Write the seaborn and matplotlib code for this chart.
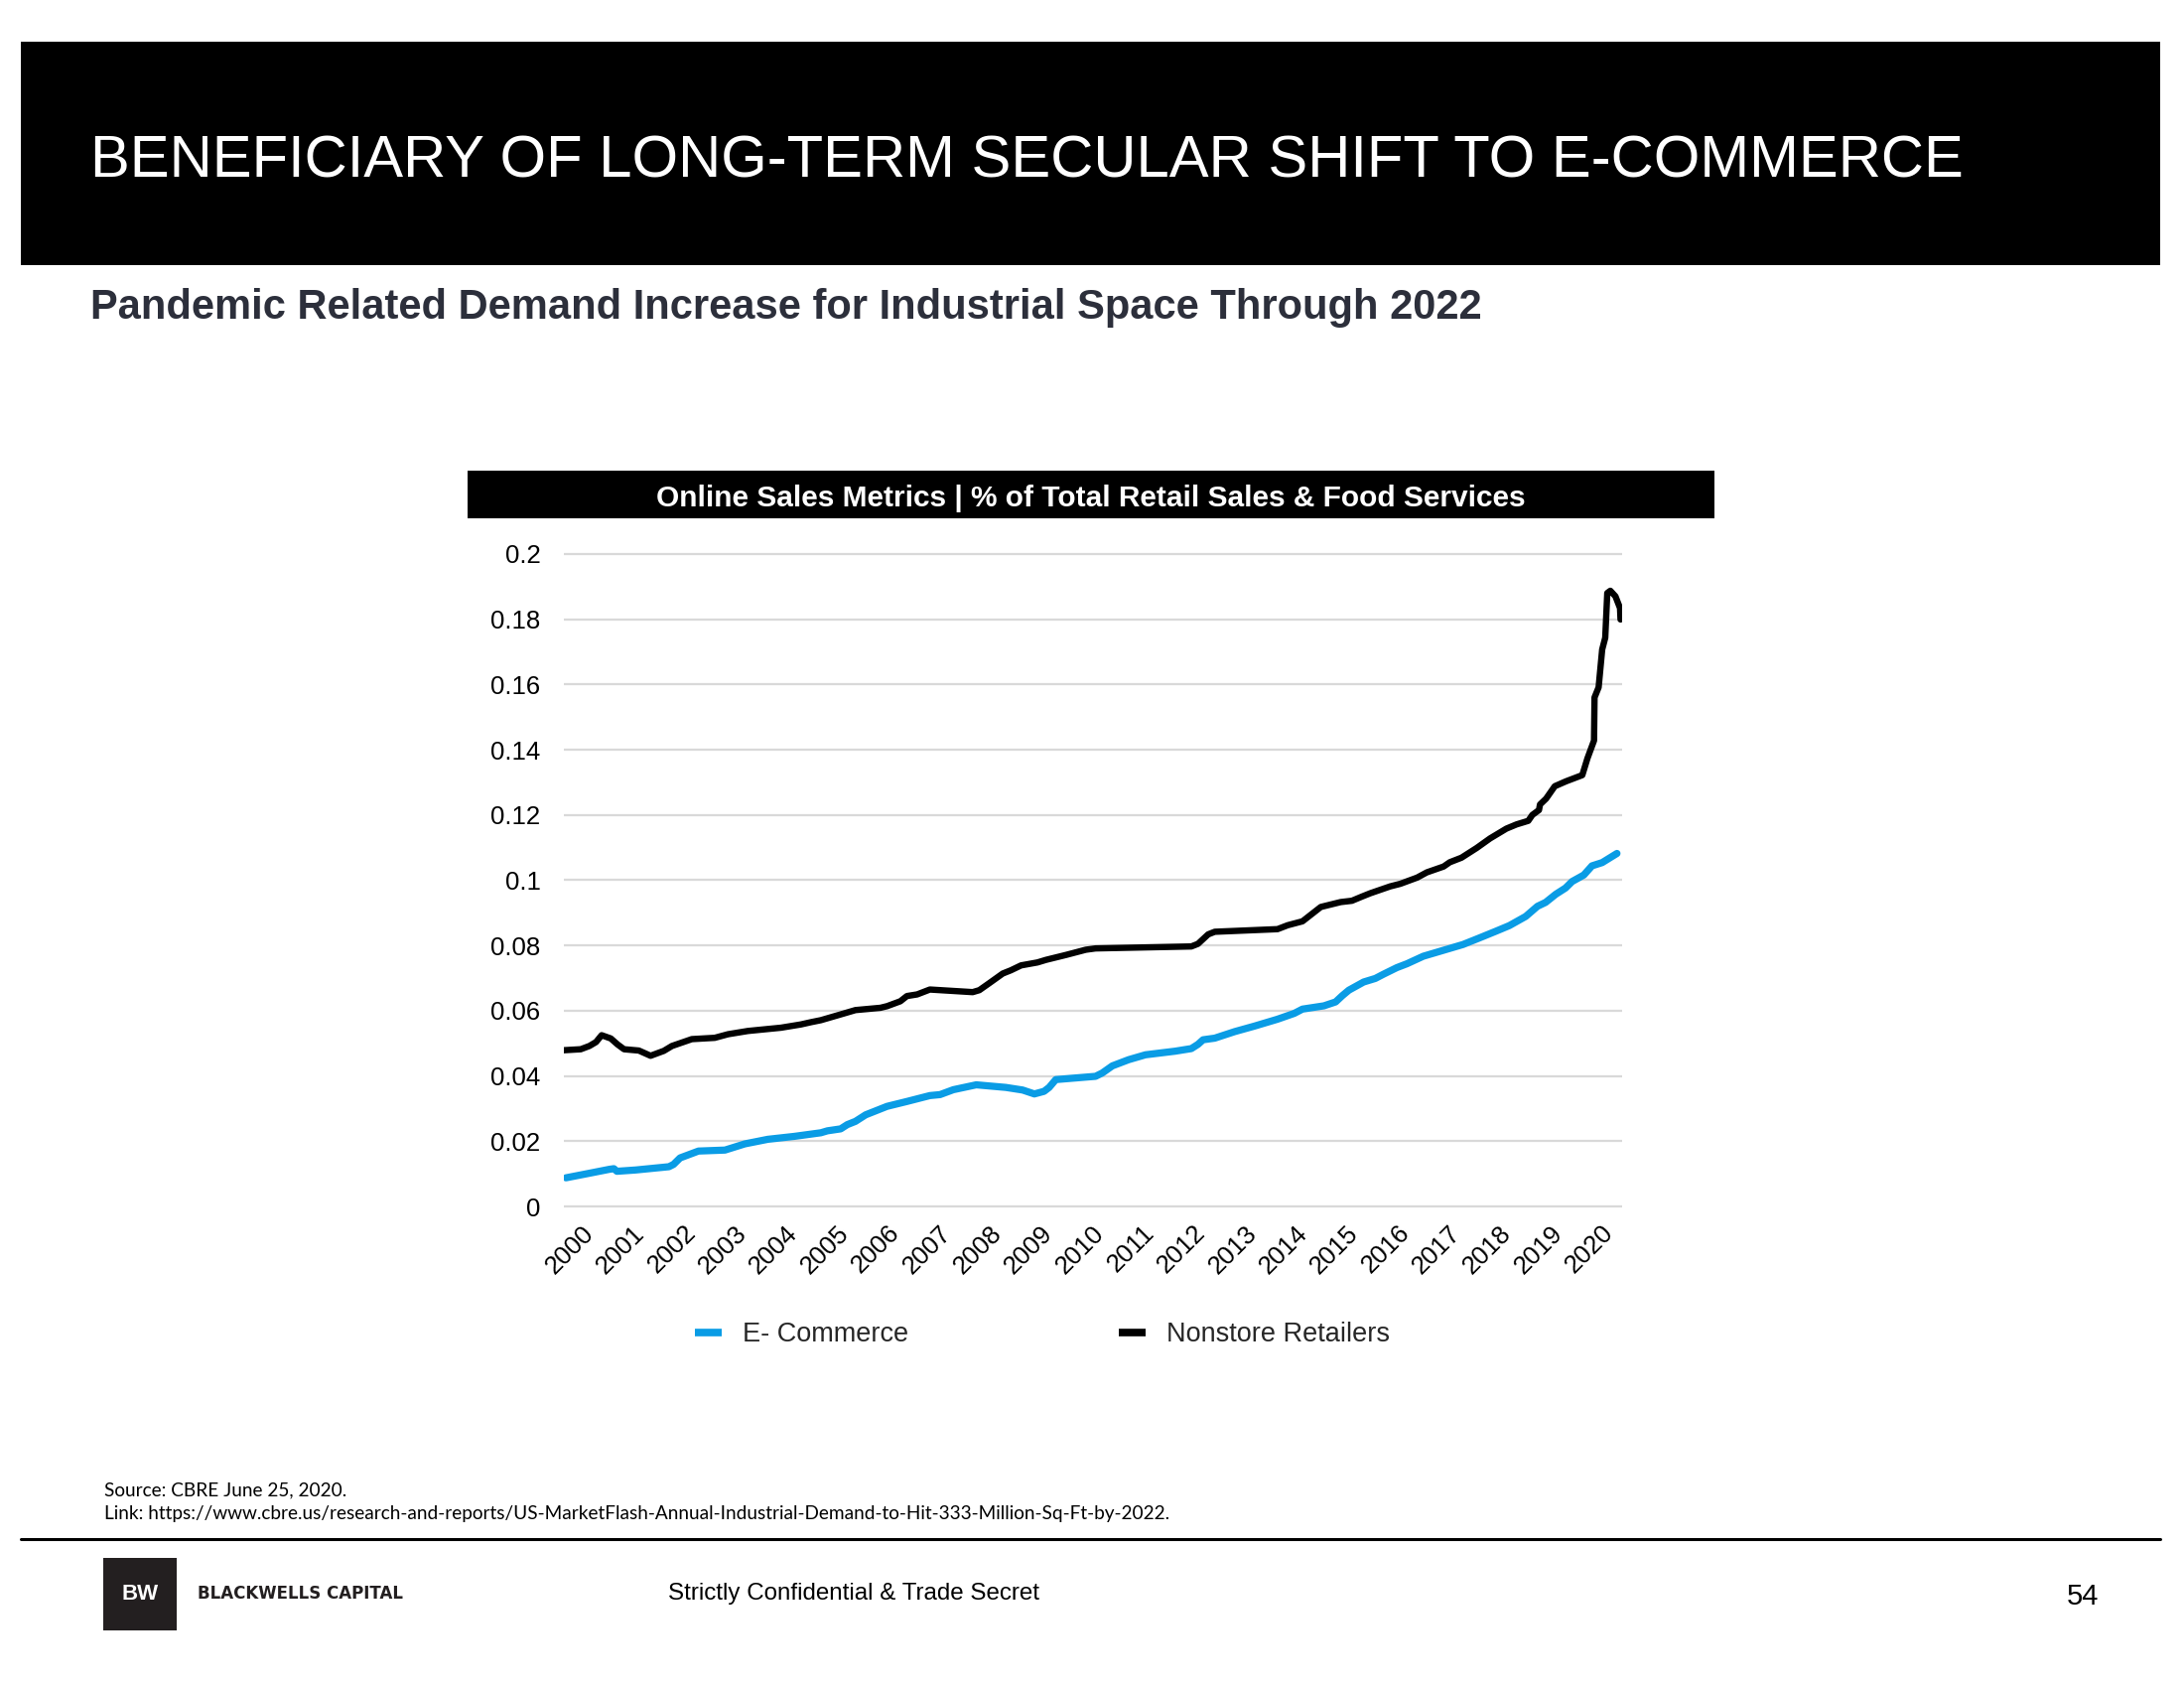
import matplotlib
matplotlib.use("Agg")
import matplotlib.pyplot as plt
from matplotlib.patches import Rectangle
import pandas as pd
import seaborn as sns

# ── Data (x = decimal year) ─────────────────────────────────────────────────
ECOM_T = [1999.92, 2000.38, 2000.77, 2000.86, 2000.92, 2001.29, 2001.94, 2002.03,
          2002.16, 2002.52, 2003.04, 2003.43, 2003.88, 2004.40, 2004.92, 2005.05,
          2005.31, 2005.44, 2005.60, 2005.80, 2006.22, 2006.61, 2007.06, 2007.26,
          2007.52, 2007.97, 2008.55, 2008.88, 2009.11, 2009.30, 2009.40, 2009.53,
          2010.31, 2010.44, 2010.64, 2010.96, 2011.29, 2011.87, 2012.19, 2012.32,
          2012.42, 2012.65, 2013.04, 2013.43, 2013.88, 2014.21, 2014.37, 2014.79,
          2015.02, 2015.15, 2015.28, 2015.57, 2015.80, 2015.96, 2016.22, 2016.42,
          2016.74, 2017.13, 2017.52, 2017.84, 2018.17, 2018.43, 2018.75, 2018.98,
          2019.14, 2019.34, 2019.53, 2019.66, 2019.89, 2020.05, 2020.25, 2020.54]
ECOM_V = [0.0088, 0.0102, 0.0114, 0.0116, 0.0108, 0.0112, 0.0122, 0.0129,
          0.0149, 0.0170, 0.0173, 0.0192, 0.0206, 0.0215, 0.0226, 0.0232,
          0.0238, 0.0251, 0.0261, 0.0281, 0.0307, 0.0322, 0.0340, 0.0343,
          0.0358, 0.0373, 0.0365, 0.0357, 0.0345, 0.0353, 0.0365, 0.0389,
          0.0399, 0.0409, 0.0431, 0.0450, 0.0465, 0.0476, 0.0484, 0.0497,
          0.0511, 0.0516, 0.0536, 0.0553, 0.0574, 0.0592, 0.0605, 0.0615,
          0.0627, 0.0646, 0.0663, 0.0688, 0.0699, 0.0712, 0.0732, 0.0744,
          0.0767, 0.0785, 0.0803, 0.0823, 0.0844, 0.0861, 0.0889, 0.0920,
          0.0932, 0.0957, 0.0976, 0.0996, 0.1016, 0.1044, 0.1054, 0.1082]

NONSTORE_T = [1999.88, 2000.21, 2000.38, 2000.51, 2000.62, 2000.80, 2000.93, 2001.06,
              2001.35, 2001.58, 2001.84, 2002.00, 2002.39, 2002.84, 2003.10, 2003.49,
              2004.14, 2004.53, 2004.73, 2004.92, 2005.25, 2005.60, 2006.09, 2006.22,
              2006.48, 2006.61, 2006.81, 2007.06, 2007.90, 2008.03, 2008.23, 2008.49,
              2008.65, 2008.85, 2009.17, 2009.34, 2009.73, 2010.12, 2010.31, 2012.19,
              2012.32, 2012.52, 2012.65, 2013.88, 2014.08, 2014.37, 2014.73, 2015.12,
              2015.34, 2015.54, 2015.70, 2016.09, 2016.29, 2016.62, 2016.81, 2017.14,
              2017.26, 2017.49, 2017.79, 2018.05, 2018.21, 2018.37, 2018.57, 2018.80,
              2018.88, 2019.01, 2019.03, 2019.15, 2019.32, 2019.54, 2019.86, 2019.96,
              2020.09, 2020.10, 2020.18, 2020.25, 2020.31, 2020.35, 2020.41, 2020.51,
              2020.60, 2020.61]
NONSTORE_V = [0.0479, 0.0482, 0.0492, 0.0504, 0.0525, 0.0515, 0.0497, 0.0482,
              0.0478, 0.0462, 0.0477, 0.0492, 0.0513, 0.0517, 0.0528, 0.0538,
              0.0548, 0.0558, 0.0565, 0.0571, 0.0586, 0.0602, 0.0609, 0.0614,
              0.0629, 0.0645, 0.0650, 0.0665, 0.0657, 0.0663, 0.0685, 0.0714,
              0.0724, 0.0739, 0.0748, 0.0756, 0.0771, 0.0787, 0.0791, 0.0797,
              0.0805, 0.0834, 0.0842, 0.0850, 0.0862, 0.0874, 0.0918, 0.0933,
              0.0937, 0.0950, 0.0960, 0.0981, 0.0989, 0.1008, 0.1024, 0.1042,
              0.1055, 0.1069, 0.1099, 0.1128, 0.1143, 0.1158, 0.1171, 0.1182,
              0.1200, 0.1215, 0.1232, 0.1250, 0.1288, 0.1303, 0.1322, 0.1373,
              0.1428, 0.1560, 0.1591, 0.1707, 0.1743, 0.1880, 0.1887, 0.1870,
              0.1834, 0.1799]

YEARS = list(range(2000, 2021))
Y_TICKS = [0, 0.02, 0.04, 0.06, 0.08, 0.1, 0.12, 0.14, 0.16, 0.18, 0.2]
Y_LABELS = ["0", "0.02", "0.04", "0.06", "0.08", "0.1", "0.12", "0.14", "0.16", "0.18", "0.2"]

BLUE = "#0A9CE5"
BLACK = "#000000"
GRID = "#D9D9D9"

sns.set_theme(style="white")
plt.rcParams["font.family"] = ["Liberation Sans", "DejaVu Sans"]

fig = plt.figure(figsize=(22, 17), dpi=100)

# ── Header band ──────────────────────────────────────────────────────────────
fig.patches.append(Rectangle((0.00955, 0.8429), 0.9795, 0.1324, transform=fig.transFigure,
                             facecolor="black", edgecolor="none", zorder=0))
fig.text(0.0414, 0.9040, "BENEFICIARY OF LONG-TERM SECULAR SHIFT TO E-COMMERCE",
         color="white", fontsize=43, ha="left", va="center")
fig.text(0.0414, 0.8176, "Pandemic Related Demand Increase for Industrial Space Through 2022",
         color="#2C2F3B", fontsize=30, fontweight="bold", ha="left", va="center")

# ── Chart title box ──────────────────────────────────────────────────────────
fig.patches.append(Rectangle((0.2141, 0.6929), 0.5709, 0.02824, transform=fig.transFigure,
                             facecolor="black", edgecolor="none", zorder=0))
fig.text(0.4995, 0.7050, "Online Sales Metrics | % of Total Retail Sales & Food Services",
         color="white", fontsize=21.5, fontweight="bold", ha="center", va="center")

# ── Line chart ───────────────────────────────────────────────────────────────
ax = fig.add_axes([0.2582, 0.2833, 0.4845, 0.3905])
ecom = pd.DataFrame({"t": ECOM_T, "v": ECOM_V})
nonstore = pd.DataFrame({"t": NONSTORE_T, "v": NONSTORE_V})

sns.lineplot(data=ecom, x="t", y="v", ax=ax, color=BLUE, linewidth=5.2,
             estimator=None, label="E- Commerce", solid_joinstyle="round", zorder=3)
sns.lineplot(data=nonstore, x="t", y="v", ax=ax, color=BLACK, linewidth=4.6,
             estimator=None, label="Nonstore Retailers", solid_joinstyle="round", zorder=4)

ax.set_xlim(1999.88, 2020.64)
ax.set_ylim(-0.001, 0.201)
ax.set_yticks(Y_TICKS)
ax.set_yticklabels(Y_LABELS)
ax.set_xticks(YEARS)
ax.set_xticklabels([str(y) for y in YEARS], rotation=45, ha="center")
ax.yaxis.grid(True, color=GRID, linewidth=1.6)
ax.xaxis.grid(False)
for s in ax.spines.values():
    s.set_visible(False)
ax.tick_params(axis="y", length=0, pad=17, labelsize=18.5, labelcolor="black")
ax.tick_params(axis="x", length=0, pad=8, labelsize=18.5, labelcolor="black")
ax.set_xlabel("")
ax.set_ylabel("")

handles, labels = ax.get_legend_handles_labels()
ax.get_legend().remove()
leg = fig.legend(handles, labels, loc="center", bbox_to_anchor=(0.4773, 0.2094), ncol=2,
                 frameon=False, fontsize=19.5, handlelength=1.0, handletextpad=0.8,
                 columnspacing=7.8)
for h in leg.get_lines():
    h.set_linewidth(5.5)
    h.set_solid_capstyle("butt")

# ── Footer ───────────────────────────────────────────────────────────────────
fig.text(0.0477, 0.1171, "Source: CBRE June 25, 2020.", fontsize=13.7,
         family=["Lato", "DejaVu Sans"], ha="left", va="center", color="black")
fig.text(0.0477, 0.1030,
         "Link: https://www.cbre.us/research-and-reports/US-MarketFlash-Annual-Industrial-Demand-to-Hit-333-Million-Sq-Ft-by-2022.",
         fontsize=13.7, family=["Lato", "DejaVu Sans"], ha="left", va="center", color="black")
fig.add_artist(plt.Line2D([0.00955, 0.98909], [0.0882, 0.0882], transform=fig.transFigure,
                          color="black", linewidth=2.2))

fig.patches.append(Rectangle((0.0473, 0.0341), 0.0336, 0.0429, transform=fig.transFigure,
                             facecolor="#231F20", edgecolor="none"))
fig.text(0.0641, 0.0557, "BW", color="white", fontsize=16, fontweight="bold",
         ha="center", va="center")
fig.text(0.0905, 0.0557, "BLACKWELLS CAPITAL", color="#231F20", fontsize=12,
         fontweight="bold", family=["DejaVu Sans"], ha="left", va="center")
fig.text(0.3059, 0.0557, "Strictly Confidential & Trade Secret", color="black",
         fontsize=17.4, ha="left", va="center")
fig.text(0.9609, 0.0541, "54", color="black", fontsize=21, ha="right", va="center")

fig.savefig("out.png", dpi=100, facecolor="white")
